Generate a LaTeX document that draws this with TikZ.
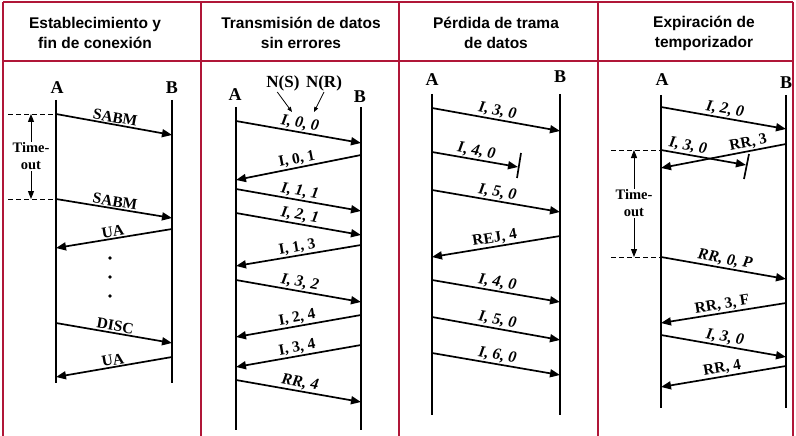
\documentclass[tikz,border=0pt]{standalone}
\usepackage{fontspec}
\setmainfont{Liberation Serif}
\setsansfont{Liberation Sans}
\usetikzlibrary{arrows.meta}
\definecolor{frameRed}{RGB}{176,22,56}
\tikzset{
frame/.style = {draw=frameRed, line width=1.8pt},
life/.style = {line width=2.2pt},
msg/.style = {line width=1.7pt, -{Triangle[length=10pt,width=8pt]}},
lab/.style = {sloped, above, inner sep=1pt, font=\fontsize{15.5}{17}\selectfont\bfseries},
labup/.style = {lab},
labit/.style = {lab, font=\fontsize{16}{17}\selectfont\bfseries\itshape},
endname/.style = {font=\fontsize{18}{19}\selectfont\bfseries},
title/.style = {align=center, font=\sffamily\bfseries\fontsize{15.5}{20}\selectfont},
guide/.style = {dash pattern=on 5pt off 3pt, line width=0.9pt},
tmo/.style = {line width=1pt, {Triangle[length=8pt,width=6pt]}-{Triangle[length=8pt,width=6pt]}},
tmolab/.style = {fill=white, align=center, inner sep=1pt, font=\fontsize{14.5}{17}\selectfont\bfseries},
lost/.style = {line width=1.7pt},
}

\begin{document}
\begin{tikzpicture}[x=1pt, y=-1pt]
  \useasboundingbox (0,0) rectangle (796,436);

  % Frame
    \draw[frame] (3,2) -- (793,2);
    \draw[frame] (3,61) -- (793,61);
    \foreach \fx in {3,201,399,598,793}
      \draw[frame] (\fx,2) -- (\fx,436);

  % Titles
    \node[title] (t1) at (95,33) {Establecimiento y\\fin de conexión};
    \node[title] (t2) at (301,33) {Transmisión de datos\\sin errores};
    \node[title] (t3) at (496,33) {Pérdida de trama\\de datos};
    \node[title] (t4) at (704,33) {Expiración de\\temporizador};

  % Panel 1: lifelines
    \node[endname] (p1Alab) at (57,88) {A};
    \node[endname] (p1Blab) at (172,88) {B};
    \coordinate (p1A) at (56,100);  \coordinate (p1Aend) at (56,383);
    \coordinate (p1B) at (172,100); \coordinate (p1Bend) at (172,383);
    \draw[life] (p1A) -- (p1Aend);
    \draw[life] (p1B) -- (p1Bend);

  % Panel 1: frames
    \foreach \f/\ys/\t/\ye/\txt/\sty [count=\i] in {A/114/B/135/SABM/labup, A/199/B/218/SABM/labup, B/229/A/248/UA/labup, A/323/B/343/DISC/labup, B/357/A/377/UA/labup}{
      \coordinate (e1s\i) at (p1\f |- 0,\ys);
      \coordinate (e1e\i) at (p1\t |- 0,\ye);
      \draw[msg] (e1s\i) -- node[\sty] {\txt} (e1e\i);
    }
    \foreach \dy [count=\i] in {258,277,296}
      \fill (110,\dy) circle (1.8pt);

  % Panel 1: time-out
    \coordinate (g1a) at (8,114);  \coordinate (g1b) at (8,199);
    \draw[guide] (g1a) -- (e1s1);
    \draw[guide] (g1b) -- (e1s2);
    \coordinate (to1a) at (31,114); \coordinate (to1b) at (31,199);
    \draw[tmo] (to1a) -- node[tmolab] (to1lab) {Time-\\out} (to1b);

  % Panel 2: lifelines
    \node[endname] (p2Alab) at (235,95) {A};
    \node[endname] (p2Blab) at (360,97) {B};
    \coordinate (p2A) at (236,107); \coordinate (p2Aend) at (236,430);
    \coordinate (p2B) at (361,107); \coordinate (p2Bend) at (361,430);
    \draw[life] (p2A) -- (p2Aend);
    \draw[life] (p2B) -- (p2Bend);

  % Panel 2: N(S) N(R)
    \node[lab, sloped=false, above=0pt, inner sep=1pt, font=\fontsize{17}{18}\selectfont\bfseries] (nS) at (283,92) {N(S)};
    \node[lab, sloped=false, above=0pt, inner sep=1pt, font=\fontsize{17}{18}\selectfont\bfseries] (nR) at (324,92) {N(R)};
    \coordinate (nSend) at (292,112);
    \coordinate (nRend) at (314,112);
    \draw[line width=0.8pt, -{Triangle[length=5pt,width=4pt]}] (nS.south west) ++(12,0) coordinate (nSstart) -- (nSend);
    \draw[line width=0.8pt, -{Triangle[length=5pt,width=4pt]}] (nR.south) coordinate (nRstart) -- (nRend);

  % Panel 2: frames
    \foreach \f/\ys/\t/\ye/\txt/\sty [count=\i] in {A/121/B/143/{I, 0, 0}/labit, B/155/A/180/{I, 0, 1}/labup, A/189/B/211/{I, 1, 1}/labit, A/213/B/235/{I, 2, 1}/labit, B/245/A/266/{I, 1, 3}/labup, A/280/B/302/{I, 3, 2}/labit, B/315/A/337/{I, 2, 4}/labup, B/345/A/367/{I, 3, 4}/labup, A/380/B/402/{RR, 4}/labit}{
      \coordinate (e2s\i) at (p2\f |- 0,\ys);
      \coordinate (e2e\i) at (p2\t |- 0,\ye);
      \draw[msg] (e2s\i) -- node[\sty] {\txt} (e2e\i);
    }

  % Panel 3: lifelines
    \node[endname] (p3Alab) at (432,80) {A};
    \node[endname] (p3Blab) at (560,77) {B};
    \coordinate (p3A) at (432,94);  \coordinate (p3Aend) at (432,415);
    \coordinate (p3B) at (560,94);  \coordinate (p3Bend) at (560,415);
    \draw[life] (p3A) -- (p3Aend);
    \draw[life] (p3B) -- (p3Bend);

  % Panel 3: frames
    \foreach \f/\ys/\t/\ye/\txt/\sty [count=\i] in {A/108/B/131/{I, 3, 0}/labit, A/190/B/212/{I, 5, 0}/labit, B/236/A/257/{REJ, 4}/labup, A/280/B/302/{I, 4, 0}/labit, A/317/B/340/{I, 5, 0}/labit, A/353/B/375/{I, 6, 0}/labit}{
      \coordinate (e3s\i) at (p3\f |- 0,\ys);
      \coordinate (e3e\i) at (p3\t |- 0,\ye);
      \draw[msg] (e3s\i) -- node[\sty] {\txt} (e3e\i);
    }
    % lost frame
    \coordinate (p3ls) at (p3A |- 0,152);
    \coordinate (p3lost) at (518,167);
    \draw[msg] (p3ls) -- node[labit] {I, 4, 0} (p3lost);
    \coordinate (p3tickT) at (521,153); \coordinate (p3tickB) at (517,178);
    \draw[lost] (p3tickT) -- (p3tickB);

  % Panel 4: lifelines
    \node[endname] (p4Alab) at (662,80) {A};
    \node[endname] (p4Blab) at (786,83) {B};
    \coordinate (p4A) at (661,95);  \coordinate (p4Aend) at (661,408);
    \coordinate (p4B) at (786,95);  \coordinate (p4Bend) at (786,408);
    \draw[life] (p4A) -- (p4Aend);
    \draw[life] (p4B) -- (p4Bend);

  % Panel 4: frames
    \foreach \f/\ys/\t/\ye/\txt/\sty [count=\i] in {A/107/B/129/{I, 2, 0}/labit, A/257/B/279/{RR, 0, P}/labit, B/303/A/323/{RR, 3, F}/labup, A/335/B/357/{I, 3, 0}/labit, B/366/A/387/{RR, 4}/labup}{
      \coordinate (e4s\i) at (p4\f |- 0,\ys);
      \coordinate (e4e\i) at (p4\t |- 0,\ye);
      \draw[msg] (e4s\i) -- node[\sty] {\txt} (e4e\i);
    }
    % lost frame and crossing ack
    \coordinate (p4ls) at (p4A |- 0,150);
    \coordinate (p4lost) at (746,165);
    \draw[msg] (p4ls) -- node[labit, pos=0.3] {I, 3, 0} (p4lost);
    \coordinate (p4rs) at (p4B |- 0,144);
    \coordinate (p4re) at (p4A |- 0,168);
    \draw[msg] (p4rs) -- node[labup, pos=0.29] {RR, 3} (p4re);
    \coordinate (p4tickT) at (749,154); \coordinate (p4tickB) at (744,179);
    \draw[lost] (p4tickT) -- (p4tickB);

  % Panel 4: time-out
    \coordinate (g4a) at (611,150); \coordinate (g4b) at (611,257);
    \draw[guide] (g4a) -- (p4ls);
    \draw[guide] (g4b) -- (e4s2);
    \coordinate (to4a) at (634,150); \coordinate (to4b) at (634,257);
    \draw[tmo] (to4a) -- node[tmolab] (to4lab) {Time-\\out} (to4b);
\end{tikzpicture}
\end{document}
